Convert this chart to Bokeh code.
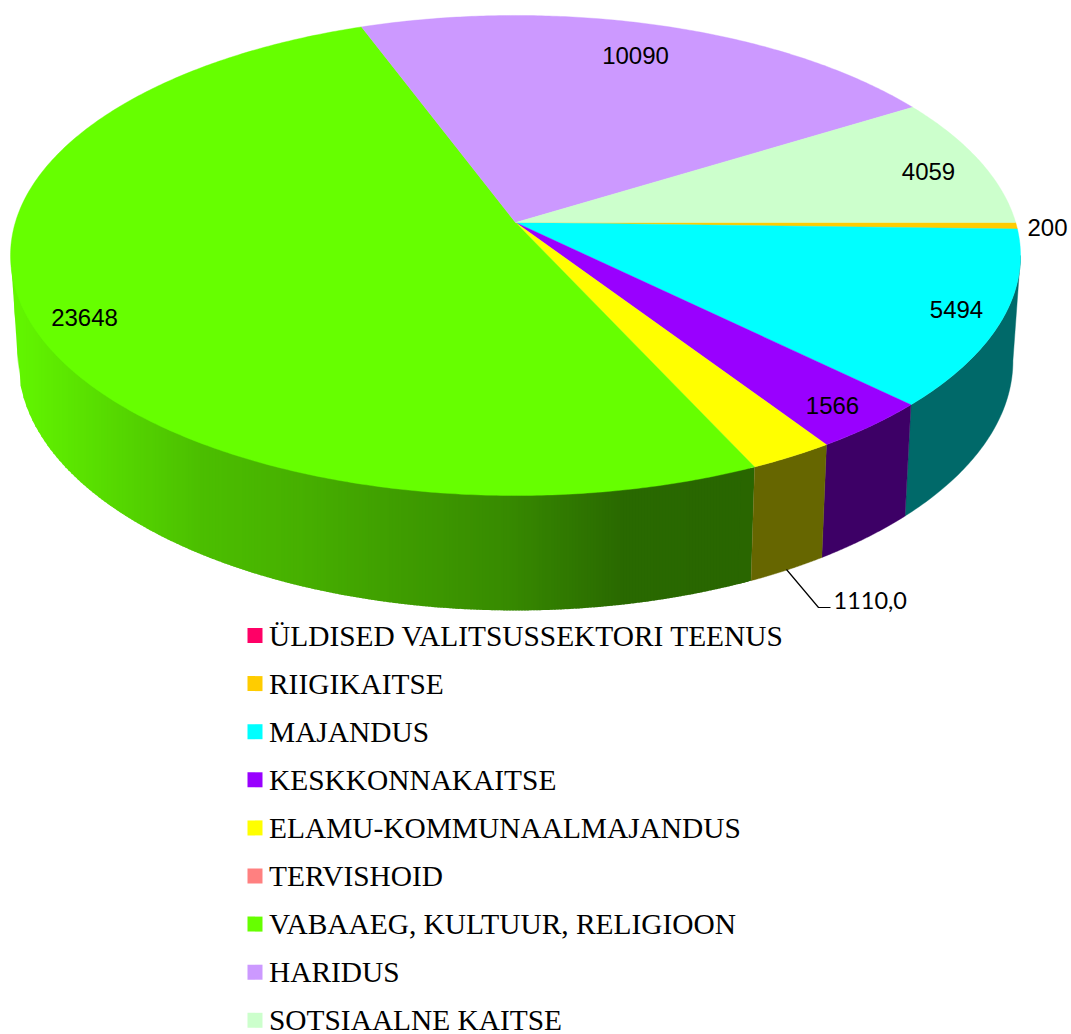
import numpy as np
from bokeh.plotting import figure
from bokeh.models import Range1d
from bokeh.embed import file_html
from bokeh.resources import INLINE
from bokeh.core.properties import value

# ---- data ----
categories = ["ÜLDISED VALITSUSSEKTORI TEENUS", "RIIGIKAITSE", "MAJANDUS", "KESKKONNAKAITSE",
              "ELAMU-KOMMUNAALMAJANDUS", "TERVISHOID", "VABAAEG, KULTUUR, RELIGIOON",
              "HARIDUS", "SOTSIAALNE KAITSE"]
values = [0, 200, 5494, 1566, 1110, 0, 23648, 10090, 4059]
label_texts = ["", "200", "5494", "1566", "1110,0", "", "23648", "10090", "4059"]

# ---- style ----
top_colors = ["#ff0066", "#ffcc00", "#00ffff", "#9900ff", "#ffff00", "#ff8080", "#66ff00", "#cc99ff", "#ccffcc"]
side_colors = ["#660029", "#665200", "#006969", "#3d0066", "#666600", "#663333", None, "#523d66", "#526652"]
green_x = [20, 100, 200, 300, 400, 500, 620, 750]
green_r = [98, 88, 76, 71, 63, 56, 42, 41]
green_g = [245, 221, 191, 176, 157, 140, 106, 102]

# ---- layout ----
W, H = 1071, 1034
CX, CY = 515.0, 222.0
K, A, R = 0.1375, 235.5, 500.2
BOT_Y, BOT_SX, BOT_SY = 326.0, 0.985, 1.04


def rim(theta_deg, bottom=False):
    t = np.radians(np.asarray(theta_deg, dtype=float))
    u, v = np.cos(t), -np.sin(t)
    d = 1 + K * v
    X, Y = R * u / d, A * v / d
    if bottom:
        return CX + BOT_SX * X, BOT_Y - BOT_SY * Y
    return CX + X, CY - Y


p = figure(width=W, height=H, output_backend="svg", toolbar_location=None,
           x_range=Range1d(0, W), y_range=Range1d(H, 0),
           min_border=0, outline_line_color=None, background_fill_color="white")
p.axis.visible = False
p.grid.visible = False

total = sum(values)
edges = np.concatenate([[0], np.cumsum(values)]) / total * 360.0
tang = np.degrees(np.arcsin(K))

# gradient side wall: overlapping columns, each one painted over the one before it
for i in range(len(values)):
    if side_colors[i] is None and values[i] > 0:
        a0, a1 = edges[i], 180 - tang
        th = np.linspace(a0, a1, 400)
        xt, yt = rim(th)
        xb, yb = rim(th, bottom=True)
        low_x = np.concatenate([[xt[-1]], xb[::-1]])
        low_y = np.concatenate([[yt[-1]], yb[::-1]])
        up_x, up_y = xt[::-1], yt[::-1]
        x_right = int(np.floor(xb[0])) - 1
        grid = np.arange(int(np.ceil(xt[-1])), x_right, 3)
        xs, ys, cols = [], [], []
        for x0 in grid:
            x1 = min(x0 + 4, x_right)
            xs.append([x0, x1, x1, x0])
            ys.append([np.interp(x0, up_x, up_y) - 3, np.interp(x1, up_x, up_y) - 3,
                       np.interp(x1, low_x, low_y), np.interp(x0, low_x, low_y)])
            r = int(np.interp(x0 + 1, green_x, green_r))
            g = int(np.interp(x0 + 1, green_x, green_g))
            cols.append(f"#{r:02x}{g:02x}00")
        p.patches(xs, ys, fill_color=cols, line_color=None)
        # narrow remainder next to the neighbouring slice
        th2 = np.linspace(a0, a0 + 1.5, 10)
        xa, ya = rim(th2)
        xc, yc = rim(th2[::-1], bottom=True)
        p.patch(np.concatenate([xa, xc]), np.concatenate([ya, yc]), fill_color=cols[-1], line_color=None)

# plain side walls
for i in range(len(values)):
    a0, a1 = max(edges[i], tang), min(edges[i + 1], 180 - tang)
    if values[i] == 0 or a1 <= a0 or side_colors[i] is None:
        continue
    th = np.linspace(a0, a1, 60)
    xt, yt = rim(th)
    xb, yb = rim(th[::-1], bottom=True)
    p.patch(np.concatenate([xt, xb]), np.concatenate([yt, yb]),
            fill_color=side_colors[i], line_color=side_colors[i], line_width=0.4)

# top wedges
for i in range(len(values)):
    if values[i] == 0:
        continue
    th = np.linspace(edges[i], edges[i + 1], max(3, int((edges[i + 1] - edges[i]) * 2)))
    xt, yt = rim(th)
    p.patch(np.concatenate([[CX], xt]), np.concatenate([[CY], yt]),
            fill_color=top_colors[i], line_color=top_colors[i], line_width=0.4)

# data labels (anchor = centre)
label_pos = {"200": (1047, 227), "5494": (956, 309), "1566": (832, 405),
             "23648": (84, 317), "10090": (635, 55), "4059": (928, 171)}
for t in label_texts:
    if t in label_pos:
        x, y = label_pos[t]
        p.text([x], [y], text=[t], text_font=value("Liberation Sans"), text_font_size="24px",
               text_align="center", text_baseline="middle", text_color="#000000")

# leader label
p.line([786, 818, 830], [569, 607, 607], line_color="#000000", line_width=1.2)
p.text([833], [600], text=["1110,0"], text_font=value("Lato"), text_font_size="23.5px",
       text_align="left", text_baseline="middle", text_color="#000000")

# legend
row_y = [635 + 48.1 * i for i in range(len(categories))]
p.rect([254.5] * len(row_y), row_y, width=15, height=15, fill_color=top_colors, line_color=None)
p.text([268.5] * len(row_y), row_y, text=categories,
       text_font=value("Liberation Serif"), text_font_size="29.4px",
       text_align="left", text_baseline="middle", text_color="#000000")

open("out.html", "w").write(file_html(p, INLINE))
